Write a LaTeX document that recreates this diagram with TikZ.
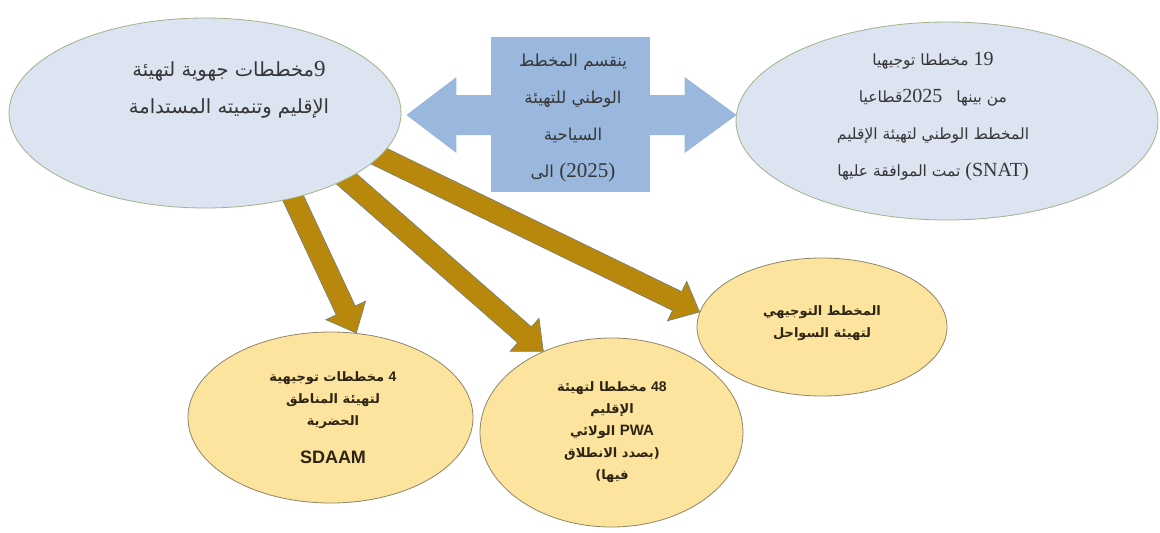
\documentclass[tikz,border=0pt]{standalone}
\usepackage{fontspec}
\usetikzlibrary{shapes.geometric,calc}
\TeXXeTstate=1
\newfontfamily\arabicfont[Script=Arabic]{DejaVu Sans}
\newfontfamily\serifnum{Liberation Serif}
\newfontfamily\arialfont{Liberation Sans}
\definecolor{topfill}{HTML}{DCE3F1}
\definecolor{topdraw}{HTML}{A3B28A}
\definecolor{boxblue}{HTML}{9AB8DD}
\definecolor{botfill}{HTML}{FCE49E}
\definecolor{botdraw}{HTML}{8E8668}
\definecolor{goldfill}{HTML}{B8880C}
\definecolor{golddraw}{HTML}{6F7F84}
\definecolor{toptext}{HTML}{363636}
\definecolor{bottext}{HTML}{2E2414}
\pgfdeclarelayer{back}
\pgfsetlayers{back,main}
\newcommand{\num}[2][20]{{\fontsize{#1}{37}\serifnum #2}}
\newcommand{\bnum}[2][14]{{\fontsize{#1}{22}\arialfont\bfseries #2}}
\newcommand{\goldarrow}[2]{%
  \coordinate (ba-s) at ($#1!-10pt!#2$);
  \coordinate (ba-t) at #2;
  \coordinate (ba-c) at ($(ba-t)!25pt!(ba-s)$);
  \filldraw[goldarrowstyle]
    ($(ba-s)!10.5pt!90:(ba-t)$) -- ($(ba-c)!10.5pt!90:(ba-t)$) --
    ($(ba-c)!22pt!90:(ba-t)$) -- (ba-t) --
    ($(ba-c)!22pt!-90:(ba-t)$) -- ($(ba-c)!10.5pt!-90:(ba-t)$) --
    ($(ba-s)!10.5pt!-90:(ba-t)$) -- cycle;}
\tikzset{
  topell/.style={ellipse, fill=topfill, draw=topdraw, line width=0.8pt, inner sep=0pt},
  botell/.style={ellipse, fill=botfill, draw=botdraw, line width=0.8pt, inner sep=0pt},
  toptxt/.style={text=toptext, align=center, font=\fontsize{15.5}{37}\arabicfont},
  bottxt/.style={text=bottext, align=center, font=\fontsize{13}{22}\arabicfont\bfseries},
  goldarrowstyle/.style={fill=goldfill, draw=golddraw, line width=0.6pt, line join=miter},
  bluebox/.style={rectangle, fill=boxblue, inner sep=0pt},
}
\begin{document}
\begin{tikzpicture}[x=1pt,y=1pt]
\useasboundingbox (0,0) rectangle (1160,-533);
% top ellipses and box
\node[topell, minimum width=392pt, minimum height=190pt] (L) at (205,-113) {};
\node[topell, minimum width=422pt, minimum height=198pt] (RE) at (947,-121) {};
\node[bluebox, minimum width=159pt, minimum height=155pt] (R) at (570.5,-114.5) {};
% bottom ellipses
\node[botell, minimum width=285pt, minimum height=171pt] (S) at (330.5,-417.5) {};
\node[botell, minimum width=263pt, minimum height=189pt] (P) at (611.5,-432.5) {};
\node[botell, minimum width=250pt, minimum height=138pt] (C) at (822,-327) {};
\begin{pgfonlayer}{back}
  \fill[white] (0,0) rectangle (1160,-533);
  % double block arrow behind the box
  \coordinate (dl) at ($(L.east)+(5,-2)$);
  \coordinate (dr) at ($(RE.west)+(1,6)$);
  \fill[boxblue] (dl) -- ($(dl)+(50,38)$) -- ($(dl)+(50,20)$) -- ($(dr)+(-52,20)$)
    -- ($(dr)+(-52,38)$) -- (dr) -- ($(dr)+(-52,-38)$) -- ($(dr)+(-52,-20)$)
    -- ($(dl)+(50,-20)$) -- ($(dl)+(50,-38)$) -- cycle;
  % gold arrows
  \goldarrow{(L.-44.7)}{(S.73)}
  \goldarrow{(L.-25.3)}{(P.130.4)}
  \goldarrow{(L.-14.3)}{(C.173.5)}
\end{pgfonlayer}
% texts
\node[toptxt, font=\fontsize{19.5}{37}\arabicfont] (Lt) at (229,-90) {%
  \beginR\beginL\num[23]{9}\endL مخططات جهوية لتهيئة\endR\\
  \beginR الإقليم وتنميته المستدامة\endR};
\node[toptxt, font=\fontsize{16.5}{37}\arabicfont] (Rt) at (573,-118) {%
  \beginR ينقسم المخطط\endR\\
  \beginR الوطني للتهيئة\endR\\
  \beginR السياحية\endR\\
  \beginR\beginL\num[21]{(2025)}\endL{} الى\endR};
\node[toptxt] (REt) at (933,-117) {%
  \beginR\beginL\num{19}\endL{} مخططا توجيهيا\endR\\
  \beginR من بينها\hspace{14pt}\beginL\num{2025}\endL قطاعيا\endR\\
  \beginR المخطط الوطني لتهيئة الإقليم\endR\\
  \beginR\beginL\num{(SNAT)}\endL{} تمت الموافقة عليها\endR};
\node[bottxt] (St) at (333,-418) {%
  \beginR\beginL\bnum{4}\endL{} مخططات توجيهية\endR\\
  \beginR لتهيئة المناطق\endR\\
  \beginR الحضرية\endR\\[16pt]
  \bnum[18]{SDAAM}};
\node[bottxt] (Pt) at (612,-432) {%
  \beginR\beginL\bnum{48}\endL{} مخططا لتهيئة\endR\\
  \beginR الإقليم\endR\\
  \beginR\beginL\bnum[15]{PWA}\endL{} الولائي\endR\\
  \beginR(بصدد الانطلاق\endR\\
  \beginR فيها)\endR};
\node[bottxt] (Ct) at (822,-323) {%
  \beginR المخطط التوجيهي\endR\\
  \beginR لتهيئة السواحل\endR};
\end{tikzpicture}
\end{document}
